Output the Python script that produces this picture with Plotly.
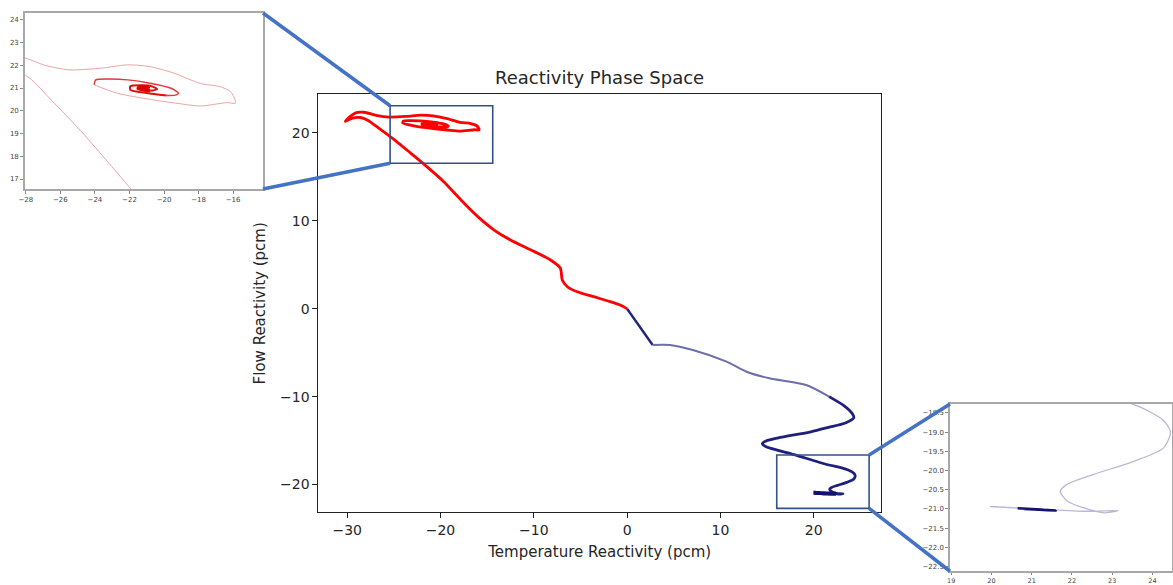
import plotly.graph_objects as go

# ---------------- data ----------------
# Red trajectory: from the origin up-left into the upper attractor
red_x = [0.0, -0.75, -1.8, -3.6, -5.35, -6.4, -6.95, -7.15, -8.2, -10.3, -12.5, -14.25,
         -16.0, -17.8, -19.7, -21.4, -23.2, -24.8, -26.5, -27.8, -28.6, -29.5, -30.2,
         -29.7, -29.1, -28.2, -26.9, -25.5, -23.7, -22.1, -20.8, -19.4, -17.9, -16.75,
         -16.15, -15.88, -15.88, -16.35, -17.9, -19.25, -20.8, -22.7, -24.05,
         -23.95, -23.2, -22.1, -20.8, -19.6, -19.15, -19.35, -19.85, -21.0, -21.95,
         -21.95, -21.3, -20.8, -20.4, -20.8, -21.5, -21.4, -20.9, -21.1, -21.0]
red_y = [0.0, 0.42, 0.8, 1.37, 1.93, 2.5, 3.27, 4.6, 5.54, 6.68, 7.82, 8.95,
         10.47, 12.37, 14.5, 16.1, 17.7, 19.1, 20.45, 21.45, 21.75, 21.66, 21.3,
         21.85, 22.28, 22.35, 22.0, 21.8, 21.87, 22.02, 21.94, 21.65, 21.2, 21.06,
         20.84, 20.48, 20.33, 20.36, 20.21, 20.33, 20.5, 20.77, 21.14,
         21.36, 21.4, 21.36, 21.21, 20.99, 20.77, 20.69, 20.67, 20.78, 20.92,
         21.08, 21.12, 21.1, 20.95, 20.88, 20.98, 21.05, 21.02, 20.98, 21.0]

# Blue trajectory: from the origin down-right into the lower attractor
blue_x = [0.0, 2.74, 4.6, 7.05, 10.6, 12.8, 15.25, 19.2, 21.65, 23.2, 24.15, 24.3,
          23.4, 21.6, 19.7, 16.2, 14.9, 14.5, 14.9, 17.9, 21.5, 22.8, 23.7, 24.28,
          24.45, 24.28, 23.54, 22.54, 21.88, 21.71, 21.88, 22.38, 22.79, 23.15,
          22.4, 21.5, 20.6, 19.97, 20.65, 21.0, 21.6, 21.2, 20.8, 21.1]
blue_y = [0.0, -4.13, -4.13, -4.7, -6.0, -7.17, -7.92, -8.68, -10.0, -11.0, -11.95, -12.4,
          -13.0, -13.5, -14.0, -14.7, -15.05, -15.35, -15.7, -16.6, -17.75, -18.05, -18.35, -18.7,
          -19.0, -19.41, -19.76, -20.1, -20.36, -20.54, -20.79, -21.0, -21.1, -21.04,
          -21.06, -21.02, -20.97, -20.94, -20.98, -21.0, -21.04, -21.02, -21.0, -21.01]

main_xticks = [-30, -20, -10, 0, 10, 20]
main_yticks = [-20, -10, 0, 10, 20]
inset1_xticks = [-28, -26, -24, -22, -20, -18, -16]
inset1_yticks = [17, 18, 19, 20, 21, 22, 23, 24]
inset2_xticks = [19, 20, 21, 22, 23, 24]
inset2_yticks = [-18.5, -19.0, -19.5, -20.0, -20.5, -21.0, -21.5, -22.0, -22.5]

zoom1_x = [-25.4, -14.4]
zoom1_y = [16.54, 23.09]
zoom2_x = [16.04, 25.94]
zoom2_y = [-22.71, -16.64]

title_text = "Reactivity Phase Space"
x_label = "Temperature Reactivity (pcm)"
y_label = "Flow Reactivity (pcm)"

# ---------------- layout geometry ----------------
MAIN_DX, MAIN_DY = [0.2714, 0.7511], [0.1243, 0.8388]
MAIN_RX, MAIN_RY = [-33.09, 27.22], [-23.16, 24.39]
IN1_DX, IN1_DY = [0.0213, 0.2242], [0.6769, 0.9778]
IN1_RX, IN1_RY = [-28.05, -14.27], [16.56, 24.3]
IN2_DX, IN2_DY = [0.8099, 0.9989], [0.0235, 0.3094]
IN2_RX, IN2_RY = [18.97, 24.48], [-22.62, -18.27]

FONT = "DejaVu Sans"


def to_paper(v, rng, dom):
    return dom[0] + (v - rng[0]) / (rng[1] - rng[0]) * (dom[1] - dom[0])


fig = go.Figure()

SPL = dict(shape="spline", smoothing=0.7)


def seg(xs, ys, i0, i1, color, width, xa, ya):
    fig.add_trace(go.Scatter(x=xs[i0:i1 + 1], y=ys[i0:i1 + 1], mode="lines",
                             line=dict(color=color, width=width, **SPL),
                             xaxis=xa, yaxis=ya, showlegend=False, hoverinfo="skip"))


nR, nB = len(red_x) - 1, len(blue_x) - 1
# main plot
seg(red_x, red_y, 0, nR, "#ff0000", 2.8, "x", "y")
seg(blue_x, blue_y, 0, 1, "#23237a", 2.4, "x", "y")
seg(blue_x, blue_y, 1, 8, "#6e6eaa", 2.0, "x", "y")
seg(blue_x, blue_y, 8, 34, "#1f1f7c", 2.8, "x", "y")
seg(blue_x, blue_y, 34, nB, "#121270", 4.0, "x", "y")
# inset 1 (red attractor)
seg(red_x, red_y, 0, 42, "#efa3a3", 1.0, "x2", "y2")
seg(red_x, red_y, 42, 50, "#e03a3a", 1.4, "x2", "y2")
seg(red_x, red_y, 50, nR - 5, "#dd1010", 2.0, "x2", "y2")
seg(red_x, red_y, nR - 5, nR, "#e00000", 3.5, "x2", "y2")
# inset 2 (blue attractor)
seg(blue_x, blue_y, 0, 38, "#b9b9d6", 1.3, "x3", "y3")
seg(blue_x, blue_y, 38, nB, "#141470", 2.6, "x3", "y3")

main_axis = dict(showgrid=False, zeroline=False, showline=True, mirror=True, automargin=False,
                 linecolor="#222", linewidth=1, ticks="outside", ticklen=5,
                 tickcolor="#222", tickfont=dict(family=FONT, size=14, color="#262626"))
inset_axis = dict(showgrid=False, zeroline=False, showline=True, mirror=True, automargin=False,
                  linecolor="#a8a8a8", linewidth=1.5, ticks="outside", ticklen=3,
                  tickcolor="#888", tickfont=dict(family=FONT, size=7, color="#444"))

fig.update_layout(
    width=1173, height=585, margin=dict(l=0, r=0, t=0, b=0, autoexpand=False),
    paper_bgcolor="white", plot_bgcolor="white", showlegend=False,
    xaxis=dict(main_axis, domain=MAIN_DX, range=MAIN_RX, tickvals=main_xticks, anchor="y",
               title=dict(text=x_label, font=dict(family=FONT, size=15, color="#262626"), standoff=9)),
    yaxis=dict(main_axis, domain=MAIN_DY, range=MAIN_RY, tickvals=main_yticks, anchor="x",
               title=dict(text=y_label, font=dict(family=FONT, size=15, color="#262626"), standoff=10)),
    xaxis2=dict(inset_axis, domain=IN1_DX, range=IN1_RX, tickvals=inset1_xticks, anchor="y2"),
    yaxis2=dict(inset_axis, domain=IN1_DY, range=IN1_RY, tickvals=inset1_yticks, anchor="x2"),
    xaxis3=dict(inset_axis, domain=IN2_DX, range=IN2_RX, tickvals=inset2_xticks, anchor="y3",
                ticklen=2, tickfont=dict(family=FONT, size=6.5, color="#444")),
    yaxis3=dict(inset_axis, domain=IN2_DY, range=IN2_RY, tickvals=inset2_yticks,
                tickformat=".1f", anchor="x3"),
)

fig.add_annotation(text=title_text, xref="paper", yref="paper",
                   x=(MAIN_DX[0] + MAIN_DX[1]) / 2, y=0.867, showarrow=False,
                   xanchor="center", yanchor="middle",
                   font=dict(family=FONT, size=18, color="#262626"))

# zoom rectangles on the main axes
for zx, zy in ((zoom1_x, zoom1_y), (zoom2_x, zoom2_y)):
    fig.add_shape(type="rect", xref="x", yref="y", x0=zx[0], x1=zx[1], y0=zy[0], y1=zy[1],
                  line=dict(color="#34508a", width=1.6), layer="above")

# connectors from zoom boxes to the insets
b1_left = to_paper(zoom1_x[0], MAIN_RX, MAIN_DX)
b1_top = to_paper(zoom1_y[1], MAIN_RY, MAIN_DY)
b1_bot = to_paper(zoom1_y[0], MAIN_RY, MAIN_DY)
b2_right = to_paper(zoom2_x[1], MAIN_RX, MAIN_DX)
b2_top = to_paper(zoom2_y[1], MAIN_RY, MAIN_DY)
b2_bot = to_paper(zoom2_y[0], MAIN_RY, MAIN_DY)
connectors = [
    (b1_left, b1_top, IN1_DX[1], IN1_DY[1]),
    (b1_left, b1_bot, IN1_DX[1], IN1_DY[0]),
    (b2_right, b2_top, IN2_DX[0], IN2_DY[1]),
    (b2_right, b2_bot, IN2_DX[0], IN2_DY[0]),
]
for x0, y0, x1, y1 in connectors:
    fig.add_shape(type="line", xref="paper", yref="paper", x0=x0, y0=y0, x1=x1, y1=y1,
                  line=dict(color="#4472c4", width=3.5), layer="above")

fig.write_html("out.html")
